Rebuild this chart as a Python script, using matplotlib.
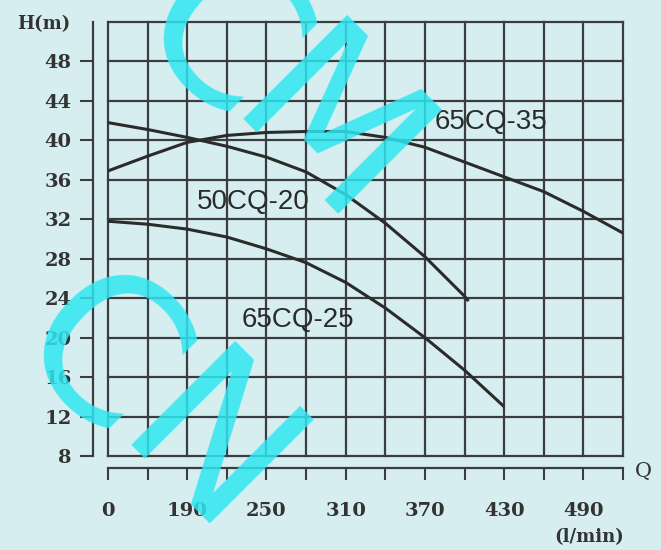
import matplotlib
matplotlib.use('Agg')
import matplotlib.pyplot as plt

# --- data (x in grid cells, H in m) ---
x_cells = list(range(14))
x_label_pos = [0, 2, 4, 6, 8, 10, 12]
x_label_text = ['0', '190', '250', '310', '370', '430', '490']
y_ticks = [8, 12, 16, 20, 24, 28, 32, 36, 40, 44, 48]

q_35 = [0, 1, 2, 3, 4, 5, 6, 7, 8, 9, 10, 11, 12, 13]
h_35 = [36.9, 38.4, 39.8, 40.5, 40.8, 40.9, 40.9, 40.3, 39.3, 37.8, 36.3, 34.8, 32.8, 30.6]

q_20 = [0, 1, 2, 3, 4, 5, 6, 7, 8, 9, 9.1]
h_20 = [41.8, 41.1, 40.3, 39.4, 38.3, 36.8, 34.5, 31.6, 28.2, 24.2, 23.7]

q_25 = [0, 1, 2, 3, 4, 5, 6, 7, 8, 9, 10]
h_25 = [31.8, 31.5, 31.0, 30.2, 29.0, 27.6, 25.6, 23.0, 20.0, 16.7, 13.0]

bg = '#d7eef0'
grid_c = '#3b3c40'
ink = '#2b2b2b'

fig = plt.figure(figsize=(6.61, 5.5), dpi=100, facecolor=bg)
ax = fig.add_axes([108/661, 1-456/550, 515/661, 434/550])
ax.set_facecolor(bg)
ax.set_xlim(0, 13)
ax.set_ylim(8, 52)

# grid incl. border
for xc in x_cells:
    ax.axvline(xc, color=grid_c, lw=1.6, zorder=1, clip_on=False)
for yv in range(8, 53, 4):
    ax.axhline(yv, color=grid_c, lw=1.6, zorder=1, clip_on=False)

# curves
for q, h in [(q_35, h_35), (q_20, h_20), (q_25, h_25)]:
    ax.plot(q, h, color=ink, lw=2.2, zorder=3, solid_capstyle='butt', solid_joinstyle='round')

lab_font = dict(family='Liberation Sans', size=20, color=ink)
ax.text(8.25, 41.9, '65CQ-35', ha='left', va='center', zorder=4, **lab_font)
ax.text(2.25, 33.8, '50CQ-20', ha='left', va='center', zorder=4, **lab_font)
ax.text(3.38, 21.8, '65CQ-25', ha='left', va='center', zorder=4, **lab_font)

# detached axes
for s in ['top', 'right']:
    ax.spines[s].set_visible(False)
ax.spines['left'].set_position(('outward', 10.8))
ax.spines['left'].set_bounds(8, 52)
ax.spines['bottom'].set_position(('outward', 8.6))
ax.spines['bottom'].set_bounds(0, 13)
for s in ['left', 'bottom']:
    ax.spines[s].set_color(grid_c)
    ax.spines[s].set_linewidth(1.6)

tick_font = dict(family='DejaVu Serif', weight='bold', size=14, color='#333333')
ax.set_yticks(y_ticks)
ax.set_yticklabels([str(v) for v in y_ticks], **tick_font)
ax.set_xticks(x_label_pos)
ax.set_xticklabels(x_label_text, **tick_font)
ax.set_xticks([c for c in x_cells if c not in x_label_pos], minor=True)
ax.tick_params(axis='y', direction='out', length=9.4, width=1.5, color=grid_c, pad=6)
ax.tick_params(axis='x', which='both', direction='out', length=8.6, width=1.5, color=grid_c, pad=16)

fig.text(17/661, 1-24/550, 'H(m)', ha='left', va='center',
         family='DejaVu Serif', weight='bold', size=13, color='#333333')
fig.text(643/661, 1-471/550, 'Q', ha='center', va='center',
         family='DejaVu Serif', size=15, color='#333333')
fig.text(589/661, 1-537/550, '(l/min)', ha='center', va='center',
         family='DejaVu Serif', weight='bold', size=13, color='#333333')

# cyan watermark
wm = dict(color='#2fe6f0', alpha=0.85, size=145, family='DejaVu Sans',
          rotation=-45, rotation_mode='anchor', ha='center', va='center', zorder=10)
fig.text(215/661, 1-45/550, 'C', **wm)
fig.text(323/661, 1-140/550, 'M', **wm)
fig.text(95/661, 1-362/550, 'C', **wm)
fig.text(203/661, 1-458/550, 'N', **wm)

fig.savefig('out.png', dpi=100, facecolor=bg)
